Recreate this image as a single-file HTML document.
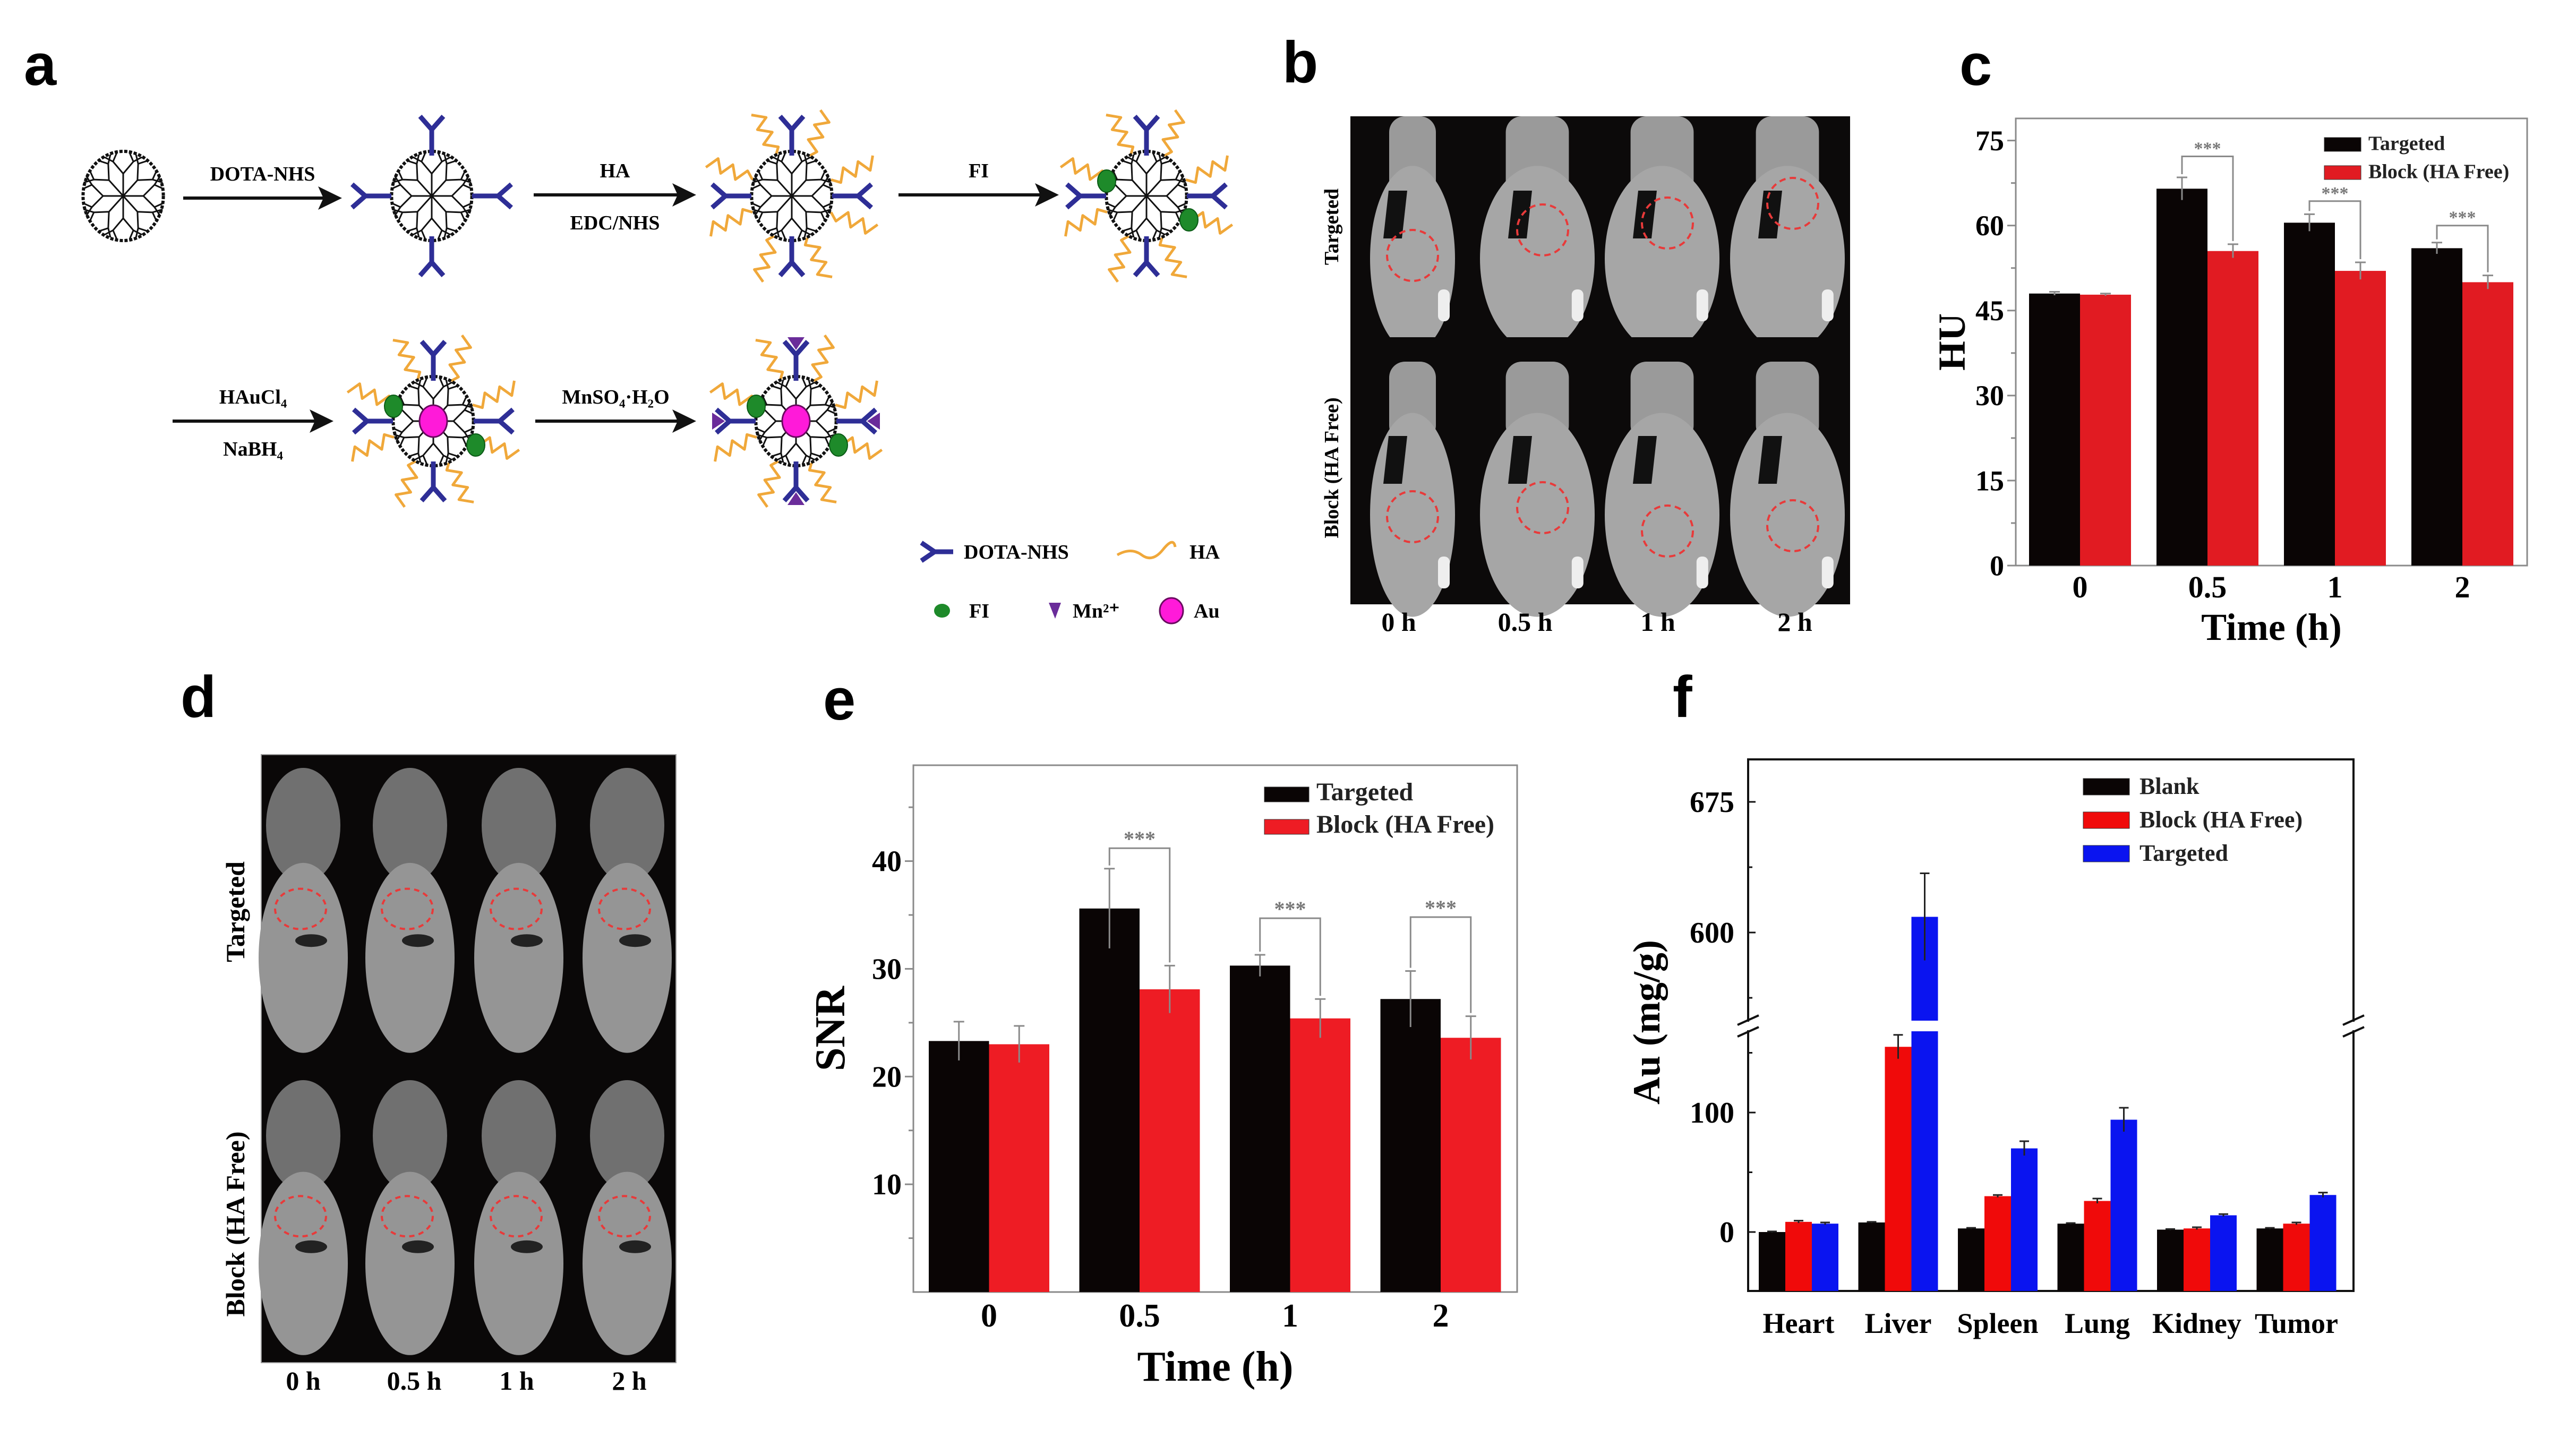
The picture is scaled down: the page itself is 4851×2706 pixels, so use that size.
<!DOCTYPE html>
<html><head><meta charset="utf-8"><title>Figure</title>
<style>
html,body{margin:0;padding:0;background:#fff;}
svg{display:block;}
.serif{font-family:"Liberation Serif",serif;font-weight:bold;}
.sans{font-family:"Liberation Sans",sans-serif;font-weight:bold;}
</style></head>
<body>
<svg id="fig" xmlns="http://www.w3.org/2000/svg" width="4851" height="2706" viewBox="0 0 4851 2706">
<rect x="0" y="0" width="4851" height="2706" fill="#fff"/>
<text class="sans" x="45" y="160" font-size="110">a</text>
<text class="sans" x="2415" y="155" font-size="110">b</text>
<text class="sans" x="3690" y="160" font-size="110">c</text>
<text class="sans" x="340" y="1350" font-size="110">d</text>
<text class="sans" x="1550" y="1355" font-size="110">e</text>
<text class="sans" x="3150" y="1350" font-size="110">f</text>
</svg>
<script>
// ---------- chart data ----------
const cCategories = ['0', '0.5', '1', '2'];
const cTargeted = [48, 66.5, 60.5, 56];
const cBlock = [47.8, 55.5, 52, 50];
const cTargetedErr = [0.3, 2, 1.5, 1];
const cBlockErr = [0.2, 1.2, 1.5, 1.2];
const cBracket = [72.2, 64.3, 60];
const cTicks = [0, 15, 30, 45, 60, 75];

const eCategories = ['0', '0.5', '1', '2'];
const eTargeted = [23.3, 35.6, 30.3, 27.2];
const eBlock = [23.0, 28.1, 25.4, 23.6];
const eTargetedErr = [1.8, 3.7, 1.0, 2.6];
const eBlockErr = [1.7, 2.2, 1.8, 2.0];
const eBracket = [41.2, 34.7, 34.8];
const eTicks = [10, 20, 30, 40];

const fCategories = ['Heart', 'Liver', 'Spleen', 'Lung', 'Kidney', 'Tumor'];
const fBlank = [0, 8, 3, 7, 2, 3];
const fBlock = [8.5, 155, 30, 26, 3, 7];
const fTargeted = [7, 609, 70, 94, 14, 31];
const fBlankErr = [0.5, 0.5, 0.5, 0.5, 0.5, 0.5];
const fBlockErr = [1, 10, 1, 2, 1, 1];
const fTargetedErr = [1, 25, 6, 10, 1, 2];
const fTicksLow = [0, 100];
const fTicksHigh = [600, 675];

const NS = 'http://www.w3.org/2000/svg';
const svg = document.getElementById('fig');
function mk(tag, attrs, parent) {
  const e = document.createElementNS(NS, tag);
  for (const k in attrs) e.setAttribute(k, attrs[k]);
  (parent || svg).appendChild(e);
  return e;
}
function txt(str, attrs, parent) {
  const e = mk('text', attrs, parent);
  e.textContent = str;
  return e;
}

// ---------- grouped bar chart (c, e) ----------
function barChart(o) {
  const g = mk('g', {});
  
  
  const y = v => o.yBot - (v - 0) / o.yMax * (o.yBot - o.yTop);
  const frame = mk('rect', {x: o.x0, y: o.yTop, width: o.x1 - o.x0, height: o.yBot - o.yTop, fill: 'none', stroke: '#8a8a8a', 'stroke-width': 3}, g);
  
  
  for (let v = o.minorStep; v < o.yMax; v += o.minorStep * 2) {
    const t = mk('line', {x1: o.x0 - 9, x2: o.x0, y1: y(v), y2: y(v), stroke: '#8a8a8a', 'stroke-width': 3}, g);
    
    
  }
  o.ticks.forEach(v => {
    const t = mk('line', {x1: o.x0 - 16, x2: o.x0, y1: y(v), y2: y(v), stroke: '#8a8a8a', 'stroke-width': 3}, g);
    
    
    const l = txt(String(v), {x: o.x0 - 22, y: y(v) + o.tickFont * 0.34, 'text-anchor': 'end', 'font-size': o.tickFont, class: 'serif'}, g);
    
    
  });
  o.cats.forEach((c, i) => {
    const bx = o.first + i * o.spacing;
    const vals = [o.s1[i], o.s2[i]], errs = [o.e1[i], o.e2[i]], cols = ['#0a0505', o.red];
    vals.forEach((v, k) => {
      const r = mk('rect', {x: bx + k * o.bw, y: y(v), width: o.bw, height: o.yBot - y(v), fill: cols[k]}, g);
      
      
      const cx = bx + k * o.bw + o.bw / 2;
      const eb = mk('path', {d: `M${cx},${y(v - errs[k])}V${y(v + errs[k])}M${cx - 10},${y(v + errs[k])}H${cx + 10}`, stroke: '#8a8a8a', 'stroke-width': 3, fill: 'none'}, g);
      
      
    });
    const lab = txt(c, {x: bx + o.bw, y: o.xLabY, 'text-anchor': 'middle', 'font-size': o.xFont, class: 'serif'}, g);
    
    
    if (i > 0) {
      const xa = bx + o.bw / 2, xb = bx + o.bw * 1.5, yb = y(o.br[i - 1]);
      const br = mk('path', {d: `M${xa},${y(vals[0] + errs[0]) - 6}V${yb}H${xb}V${y(vals[1] + errs[1]) - 6}`, stroke: '#8a8a8a', 'stroke-width': 3, fill: 'none'}, g);
      
      
      const st = txt('***', {x: (xa + xb) / 2, y: yb - 4, 'text-anchor': 'middle', 'font-size': o.starFont, fill: '#777', class: 'serif'}, g);
      
      
    }
  });
  const xt = txt('Time (h)', {x: (o.x0 + o.x1) / 2, y: o.titleY, 'text-anchor': 'middle', 'font-size': o.titleFont, class: 'serif'}, g);
  
  
  const yt = txt(o.yTitle, {x: 0, y: 0, transform: `translate(${o.yTitleX},${(o.yTop + o.yBot) / 2}) rotate(-90)`, 'text-anchor': 'middle', 'font-size': o.titleFont, class: 'serif'}, g);
  
  
  const names = ['Targeted', 'Block (HA Free)'], cols = ['#0a0505', o.red];
  names.forEach((n, k) => {
    const ly = o.legY + k * o.legGap;
    const sw = mk('rect', {x: o.legX, y: ly, width: o.legW, height: o.legH, fill: cols[k], stroke: '#333', 'stroke-width': 1}, g);
    
    
    const lt = txt(n, {x: o.legX + o.legW + 14, y: ly + o.legH * 0.9, 'font-size': o.legFont, class: 'serif', fill: '#222'}, g);
    
    
  });
}

barChart({name: 'hu-chart', x0: 3796, x1: 4759, yTop: 223, yBot: 1065, yMax: 78.9, ticks: cTicks, minorStep: 7.5,
  cats: cCategories, s1: cTargeted, s2: cBlock, e1: cTargetedErr, e2: cBlockErr, br: cBracket,
  first: 3821, spacing: 240, bw: 96, red: '#e11b22', tickFont: 54, xFont: 58, xLabY: 1125, titleY: 1205, titleFont: 72,
  yTitle: 'HU', yTitleX: 3700, starFont: 34, legX: 4377, legY: 259, legGap: 53, legW: 69, legH: 26, legFont: 38});

barChart({name: 'snr-chart', x0: 1720, x1: 2857, yTop: 1441, yBot: 2433, yMax: 48.9, ticks: eTicks, minorStep: 5,
  cats: eCategories, s1: eTargeted, s2: eBlock, e1: eTargetedErr, e2: eBlockErr, br: eBracket,
  first: 1749, spacing: 283.5, bw: 113.5, red: '#ee1c24', tickFont: 56, xFont: 62, xLabY: 2498, titleY: 2600, titleFont: 80,
  yTitle: 'SNR', yTitleX: 1590, starFont: 40, legX: 2381, legY: 1482, legGap: 61, legW: 84, legH: 28, legFont: 48});

// ---------- panel f : broken axis ----------
(function () {
  const g = mk('g', {});
  
  
  const x0 = 3292, x1 = 4432, yTop = 1430, yBot = 2431;
  const y = v => v <= 300 ? 2320 - v * 2.25 : 1756 - (v - 600) * 246 / 75;
  const frame = mk('rect', {x: x0, y: yTop, width: x1 - x0, height: yBot - yTop, fill: 'none', stroke: '#111', 'stroke-width': 4}, g);
  
  
  fTicksLow.concat(fTicksHigh).forEach(v => {
    const t = mk('line', {x1: x0, x2: x0 + 14, y1: y(v), y2: y(v), stroke: '#111', 'stroke-width': 3}, g);
    
    
    const l = txt(String(v), {x: 3266, y: y(v) + 19, 'text-anchor': 'end', 'font-size': 56, class: 'serif'}, g);
    
    
  });
  [50, 150, 562.5, 637.5].forEach(v => {
    const t = mk('line', {x1: x0, x2: x0 + 8, y1: y(v), y2: y(v), stroke: '#111', 'stroke-width': 3}, g);
    
    
  });
  const cols = ['#0a0505', '#f00a0a', '#0a14f0'];
  const series = [fBlank, fBlock, fTargeted], errs = [fBlankErr, fBlockErr, fTargetedErr];
  const sname = ['blank', 'block', 'targeted'];
  fCategories.forEach((c, i) => {
    const bx = 3312 + i * 187.5, bw = 50;
    series.forEach((s, k) => {
      const v = s[i];
      const r = mk('rect', {x: bx + k * bw, y: y(v), width: bw, height: yBot - y(v), fill: cols[k]}, g);
      
      
      if (v > 300) {
        const gap = mk('rect', {x: bx + k * bw - 2, y: 1922, width: bw + 4, height: 20, fill: '#fff'}, g);
        
        
      }
      const cx = bx + k * bw + bw / 2, e = errs[k][i];
      const eb = mk('path', {d: `M${cx},${y(v - e)}V${y(v + e)}M${cx - 9},${y(v + e)}H${cx + 9}`, stroke: '#222', 'stroke-width': 3, fill: 'none'}, g);
      
      
    });
    const lab = txt(c, {x: bx + 75, y: 2510, 'text-anchor': 'middle', 'font-size': 54, class: 'serif'}, g);
    
    
  });
  [x0, x1].forEach(xx => {
    const w = mk('rect', {x: xx - 20, y: 1924, width: 40, height: 16, fill: '#fff'}, g);
    
    
    const b = mk('path', {d: `M${xx - 20},${1930}L${xx + 20},${1912}M${xx - 20},${1952}L${xx + 20},${1934}`, stroke: '#111', 'stroke-width': 4, fill: 'none'}, g);
    
    
  });
  const yt = txt('Au (mg/g)', {x: 0, y: 0, transform: 'translate(3125,1925) rotate(-90)', 'text-anchor': 'middle', 'font-size': 72, class: 'serif'}, g);
  
  
  ['Blank', 'Block (HA Free)', 'Targeted'].forEach((n, k) => {
    const ly = 1466 + k * 63;
    const sw = mk('rect', {x: 3923, y: ly, width: 87, height: 31, fill: cols[k], stroke: '#333', 'stroke-width': 1}, g);
    
    
    const lt = txt(n, {x: 4029, y: ly + 29, 'font-size': 44, class: 'serif', fill: '#222'}, g);
    
    
  });
})();

// ---------- panel a : schematic ----------
function dendrimer(cx, cy, opt) {
  const g = mk('g', {});
  
  
  const R = 84;
  if (opt.ha) {
    for (let k = 0; k < 8; k++) {
      const a = (k * 45 + 22.5) * Math.PI / 180;
      let d = '';
      for (let s = 0; s <= 6; s++) {
        const r = 80 + s * 15, off = (s % 2 ? 12 : -12) * (s > 0 ? 1 : 0);
        const px = cx + Math.cos(a) * r - Math.sin(a) * off, py = cy + Math.sin(a) * r + Math.cos(a) * off;
        d += (s === 0 ? 'M' : 'L') + px.toFixed(1) + ',' + py.toFixed(1);
      }
      const p = mk('path', {d: d, stroke: '#f0a83a', 'stroke-width': 5, fill: 'none', 'stroke-linejoin': 'round'}, g);
      
      
    }
  }
  mk('ellipse', {cx: cx, cy: cy, rx: R * 0.9, ry: R, fill: '#fff', stroke: '#111', 'stroke-width': 6, 'stroke-dasharray': '6 3'}, g);
  for (let k = 0; k < 8; k++) {
    const a = k * 45 * Math.PI / 180;
    const ex = cx + Math.cos(a) * 38, ey = cy + Math.sin(a) * 42;
    let d = `M${cx},${cy}L${ex},${ey}`;
    [-18, 18].forEach(da => {
      const b = a + da * Math.PI / 180;
      const fx = cx + Math.cos(b) * 62, fy = cy + Math.sin(b) * 68;
      d += `M${ex},${ey}L${fx},${fy}`;
      [-9, 9].forEach(db => {
        const c2 = b + db * Math.PI / 180;
        d += `M${fx},${fy}L${cx + Math.cos(c2) * 78},${cy + Math.sin(c2) * 82}`;
      });
    });
    mk('path', {d: d, stroke: '#111', 'stroke-width': 3, fill: 'none'}, g);
  }
  if (opt.dota) {
    [0, 90, 180, 270].forEach(deg => {
      const a = deg * Math.PI / 180, ux = Math.cos(a), uy = Math.sin(a), nx = -uy, ny = ux;
      const r0 = 76, r1 = 125, r2 = 150;
      const d = `M${cx + ux * r0},${cy + uy * r0}L${cx + ux * r1},${cy + uy * r1}L${cx + ux * r2 + nx * 22},${cy + uy * r2 + ny * 22}M${cx + ux * r1},${cy + uy * r1}L${cx + ux * r2 - nx * 22},${cy + uy * r2 - ny * 22}`;
      const p = mk('path', {d: d, stroke: '#2e2e96', 'stroke-width': 9, fill: 'none'}, g);
      
      
      if (opt.mn) {
        const tx = cx + ux * 158, ty = cy + uy * 158;
        mk('polygon', {points: `${tx + nx * 16},${ty + ny * 16} ${tx - nx * 16},${ty - ny * 16} ${tx - ux * 24},${ty - uy * 24}`, fill: '#6a2c9a'}, g);
      }
    });
  }
  if (opt.fi) {
    mk('ellipse', {cx: cx - 75, cy: cy - 28, rx: 17, ry: 21, fill: '#1e8a2a', stroke: '#0a5a15', 'stroke-width': 2}, g);
    mk('ellipse', {cx: cx + 80, cy: cy + 45, rx: 17, ry: 21, fill: '#1e8a2a', stroke: '#0a5a15', 'stroke-width': 2}, g);
  }
  if (opt.au) {
    mk('ellipse', {cx: cx, cy: cy, rx: 26, ry: 30, fill: '#ff1ad9', stroke: '#6a0a60', 'stroke-width': 3}, g);
  }
}
function arrow(x1, x2, yy, top, bottom) {
  const g = mk('g', {});
  
  
  mk('line', {x1: x1, x2: x2 - 30, y1: yy, y2: yy, stroke: '#111', 'stroke-width': 6}, g);
  mk('polygon', {points: `${x2},${yy} ${x2 - 45},${yy - 22} ${x2 - 35},${yy} ${x2 - 45},${yy + 22}`, fill: '#111'}, g);
  if (top) txt(top, {x: (x1 + x2) / 2, y: yy - 33, 'text-anchor': 'middle', 'font-size': 38, class: 'serif'}, g);
  if (bottom) txt(bottom, {x: (x1 + x2) / 2, y: yy + 65, 'text-anchor': 'middle', 'font-size': 38, class: 'serif'}, g);
}
dendrimer(232, 369, {});
arrow(345, 644, 373, 'DOTA-NHS', null);
dendrimer(813, 369, {dota: 1});
arrow(1005, 1311, 367, 'HA', 'EDC/NHS');
dendrimer(1491, 369, {dota: 1, ha: 1});
arrow(1692, 1994, 367, 'FI', null);
dendrimer(2159, 369, {dota: 1, ha: 1, fi: 1});
arrow(325, 628, 793, 'HAuCl\u2084', 'NaBH\u2084');
dendrimer(816, 793, {dota: 1, ha: 1, fi: 1, au: 1});
arrow(1008, 1311, 793, 'MnSO\u2084\u00B7H\u2082O', null);
dendrimer(1499, 793, {dota: 1, ha: 1, fi: 1, au: 1, mn: 1});
(function () {
  const g = mk('g', {});
  
  
  mk('path', {d: 'M1735,1022L1760,1039L1735,1056M1760,1039H1795', stroke: '#2e2e96', 'stroke-width': 9, fill: 'none'}, g);
  txt('DOTA-NHS', {x: 1815, y: 1052, 'font-size': 38, class: 'serif'}, g);
  mk('path', {d: 'M2104,1045Q2130,1030 2150,1045T2190,1035T2213,1030', stroke: '#f0a83a', 'stroke-width': 5, fill: 'none'}, g);
  txt('HA', {x: 2240, y: 1052, 'font-size': 38, class: 'serif'}, g);
  mk('ellipse', {cx: 1774, cy: 1150, rx: 15, ry: 13, fill: '#1e8a2a'}, g);
  txt('FI', {x: 1825, y: 1163, 'font-size': 38, class: 'serif'}, g);
  mk('polygon', {points: '1975,1135 1998,1135 1987,1165', fill: '#6a2c9a'}, g);
  txt('Mn\u00B2\u207A', {x: 2020, y: 1163, 'font-size': 38, class: 'serif'}, g);
  mk('ellipse', {cx: 2206, cy: 1150, rx: 22, ry: 24, fill: '#ff1ad9', stroke: '#6a0a60', 'stroke-width': 3}, g);
  txt('Au', {x: 2248, y: 1163, 'font-size': 38, class: 'serif'}, g);
})();

// ---------- panel b : CT images ----------
(function () {
  const g = mk('g', {});
  
  
  mk('rect', {x: 2543, y: 219, width: 941, height: 919, fill: '#0c0a0a'}, g);
  const cx = [2660, 2895, 3130, 3366];
  const rows = [[219, 635], [681, 1138]];
  const circ = [[481, 433, 420, 383], [973, 956, 1000, 990]];
  rows.forEach((r, ri) => {
    cx.forEach((x, ci) => {
      const mid = (r[0] + r[1]) / 2;
      const w = ci === 0 ? 80 : 108;
      mk('rect', {x: x - w * 0.55, y: r[0], width: w * 1.1, height: 150, rx: 30, fill: '#9a9a9a'}, g);
      mk('ellipse', {cx: x, cy: mid + 60, rx: w, ry: (r[1] - r[0]) * 0.42, fill: '#a6a6a6'}, g);
      mk('path', {d: `M${x - 45},${r[0] + 140}L${x - 10},${r[0] + 140}L${x - 20},${r[0] + 230}L${x - 55},${r[0] + 230}Z`, fill: '#111'}, g);
      mk('rect', {x: x + w * 0.6, y: r[1] - 90, width: 22, height: 60, rx: 10, fill: '#eee'}, g);
      const c = mk('circle', {cx: x + (ci === 0 ? 0 : 10), cy: circ[ri][ci], r: 48, fill: 'none', stroke: '#e83a3a', 'stroke-width': 4, 'stroke-dasharray': '12 8'}, g);
      
      
    });
  });
  mk('rect', {x: 2543, y: 635, width: 941, height: 46, fill: '#0c0a0a'}, g);
  ['0 h', '0.5 h', '1 h', '2 h'].forEach((t, i) => {
    const l = txt(t, {x: [2634, 2872, 3122, 3380][i], y: 1188, 'text-anchor': 'middle', 'font-size': 50, class: 'serif'}, g);
    
    
  });
  const a = txt('Targeted', {x: 0, y: 0, transform: 'translate(2520,427) rotate(-90)', 'text-anchor': 'middle', 'font-size': 38, class: 'serif'}, g);
  
  
  const b = txt('Block (HA Free)', {x: 0, y: 0, transform: 'translate(2520,881) rotate(-90)', 'text-anchor': 'middle', 'font-size': 38, class: 'serif'}, g);
  
  
})();

// ---------- panel d : MR images ----------
(function () {
  const g = mk('g', {});
  
  
  mk('rect', {x: 492, y: 1421, width: 781, height: 1145, fill: '#0a0808', stroke: '#999', 'stroke-width': 2}, g);
  const cx = [571, 772, 977, 1181];
  const rows = [[1446, 1988], [2034, 2557]];
  rows.forEach((r, ri) => {
    cx.forEach((x, ci) => {
      const h = r[1] - r[0];
      mk('ellipse', {cx: x, cy: r[0] + h * 0.2, rx: 70, ry: h * 0.2, fill: '#707070'}, g);
      mk('ellipse', {cx: x, cy: r[0] + h * 0.66, rx: 84, ry: h * 0.33, fill: '#959595'}, g);
      mk('ellipse', {cx: x + 15, cy: r[0] + h * 0.6, rx: 30, ry: 12, fill: '#222'}, g);
      const c = mk('ellipse', {cx: x - 5, cy: r[0] + h * 0.49, rx: 48, ry: 38, fill: 'none', stroke: '#e83a3a', 'stroke-width': 4, 'stroke-dasharray': '10 8'}, g);
      
      
    });
  });
  ['0 h', '0.5 h', '1 h', '2 h'].forEach((t, i) => {
    const l = txt(t, {x: [571, 780, 973, 1185][i], y: 2617, 'text-anchor': 'middle', 'font-size': 50, class: 'serif'}, g);
    
    
  });
  const a = txt('Targeted', {x: 0, y: 0, transform: 'translate(460,1717) rotate(-90)', 'text-anchor': 'middle', 'font-size': 50, class: 'serif'}, g);
  
  
  const b = txt('Block (HA Free)', {x: 0, y: 0, transform: 'translate(460,2305) rotate(-90)', 'text-anchor': 'middle', 'font-size': 50, class: 'serif'}, g);
  
  
})();
</script>
</body></html>
